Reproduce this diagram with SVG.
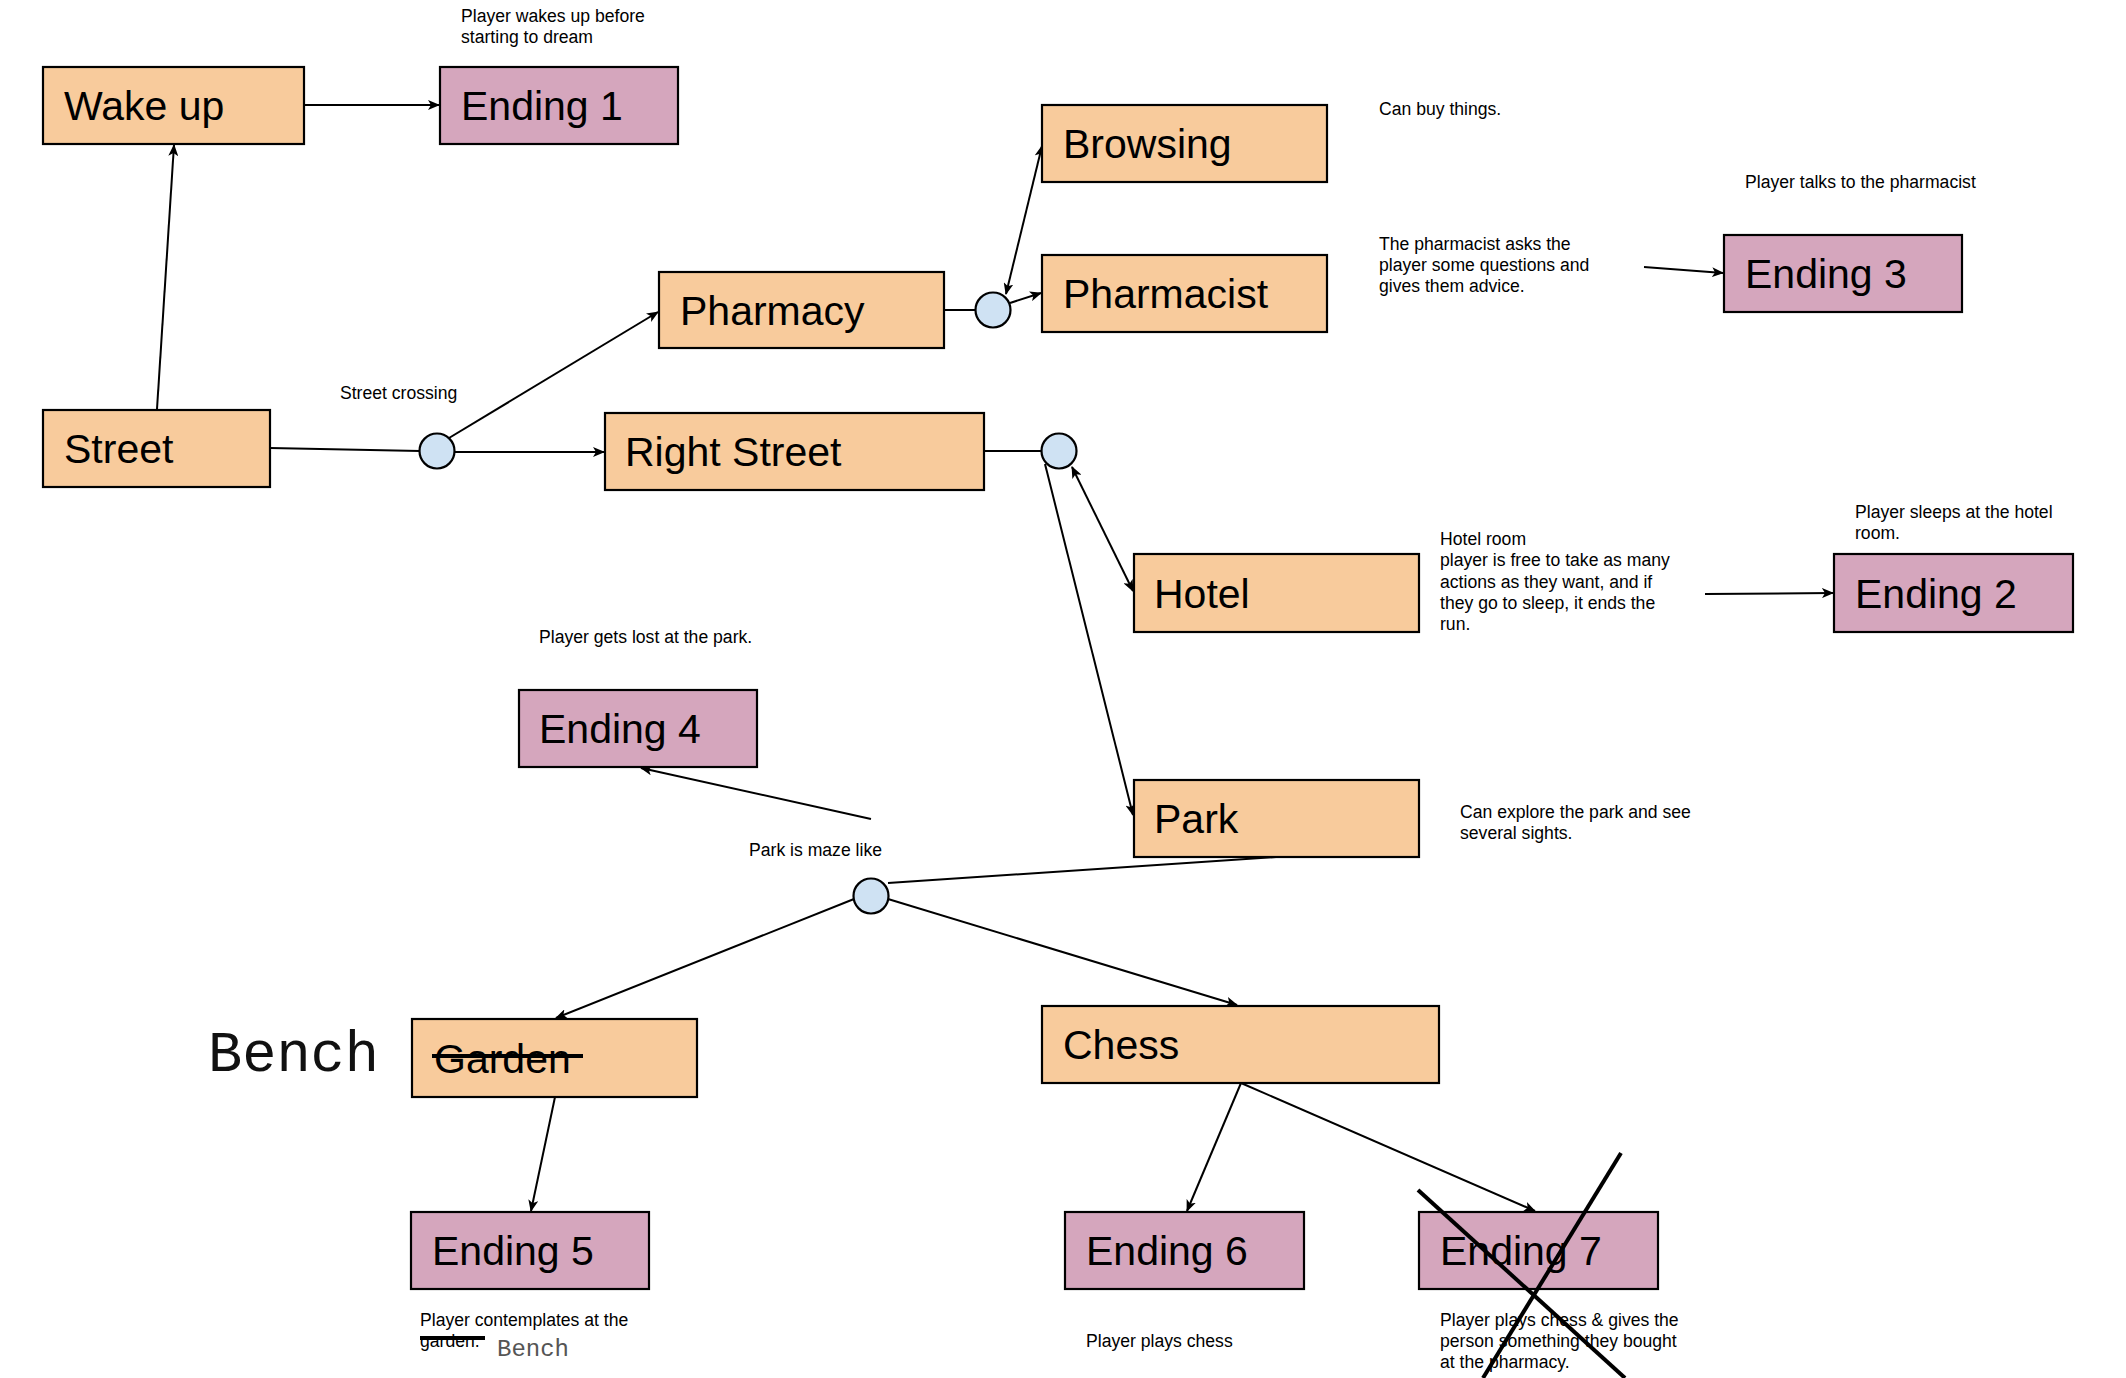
<svg xmlns="http://www.w3.org/2000/svg" width="2126" height="1378" viewBox="0 0 2126 1378">
<style>
  .box { stroke: #000; stroke-width: 2.2; }
  .state { fill: #f8cb9c; }
  .ending { fill: #d5a6bd; }
  .junction { fill: #cfe2f3; stroke: #000; stroke-width: 2.2; }
  .label { font-family: "Liberation Sans", Arial, sans-serif; font-size: 41px; fill: #000; }
  .note { font-family: "Liberation Sans", Arial, sans-serif; font-size: 17.6px; fill: #000; }
  .mono { font-family: "Liberation Mono", "Courier New", monospace; }
  .edge { fill: none; stroke: #000; stroke-width: 2; }
  .thick { fill: none; stroke: #000; stroke-width: 4; }
</style>
<defs>
  <marker id="arr" viewBox="0 0 12 10" refX="11" refY="5" markerWidth="12" markerHeight="10" markerUnits="userSpaceOnUse" orient="auto-start-reverse">
    <path d="M0,0 L12,5 L0,10 L3,5 z" fill="#000"/>
  </marker>
</defs>
<rect width="2126" height="1378" fill="#fff"/>

<g id="connectors">
  <line class="edge" x1="304" y1="105" x2="439" y2="105" marker-end="url(#arr)"/>
  <line class="edge" x1="157" y1="409" x2="174" y2="145" marker-end="url(#arr)"/>
  <line class="edge" x1="270" y1="448" x2="420" y2="451"/>
  <line class="edge" x1="455" y1="452" x2="604" y2="452" marker-end="url(#arr)"/>
  <line class="edge" x1="449" y1="438" x2="658" y2="312" marker-end="url(#arr)"/>
  <line class="edge" x1="944" y1="310" x2="975" y2="310"/>
  <line class="edge" x1="1006" y1="294" x2="1042" y2="146" marker-start="url(#arr)" marker-end="url(#arr)"/>
  <line class="edge" x1="1010" y1="303" x2="1041" y2="293" marker-end="url(#arr)"/>
  <line class="edge" x1="984" y1="451" x2="1041" y2="451"/>
  <line class="edge" x1="1072" y1="467" x2="1133" y2="591" marker-start="url(#arr)" marker-end="url(#arr)"/>
  <line class="edge" x1="1045" y1="464" x2="1133" y2="815" marker-end="url(#arr)"/>
  <line class="edge" x1="1644" y1="267" x2="1723" y2="273" marker-end="url(#arr)"/>
  <line class="edge" x1="1705" y1="594" x2="1833" y2="593" marker-end="url(#arr)"/>
  <line class="edge" x1="1276" y1="857" x2="888" y2="883"/>
  <line class="edge" x1="871" y1="819" x2="641" y2="768" marker-end="url(#arr)"/>
  <line class="edge" x1="854" y1="899" x2="556" y2="1018" marker-end="url(#arr)"/>
  <line class="edge" x1="888" y1="899" x2="1237" y2="1005" marker-end="url(#arr)"/>
  <line class="edge" x1="555" y1="1097" x2="531" y2="1211" marker-end="url(#arr)"/>
  <line class="edge" x1="1241" y1="1083" x2="1187" y2="1211" marker-end="url(#arr)"/>
  <line class="edge" x1="1241" y1="1083" x2="1535" y2="1211" marker-end="url(#arr)"/>
</g>

<g id="wake-up"><rect class="box state" x="43" y="67" width="261" height="77"/><text class="label" x="64" y="120">Wake up</text></g>
<g id="ending-1"><rect class="box ending" x="440" y="67" width="238" height="77"/><text class="label" x="461" y="120">Ending 1</text></g>
<g id="browsing"><rect class="box state" x="1042" y="105" width="285" height="77"/><text class="label" x="1063" y="158">Browsing</text></g>
<g id="pharmacist"><rect class="box state" x="1042" y="255" width="285" height="77"/><text class="label" x="1063" y="308">Pharmacist</text></g>
<g id="pharmacy"><rect class="box state" x="659" y="272" width="285" height="76"/><text class="label" x="680" y="325">Pharmacy</text></g>
<g id="ending-3"><rect class="box ending" x="1724" y="235" width="238" height="77"/><text class="label" x="1745" y="288">Ending 3</text></g>
<g id="street"><rect class="box state" x="43" y="410" width="227" height="77"/><text class="label" x="64" y="463">Street</text></g>
<g id="right-street"><rect class="box state" x="605" y="413" width="379" height="77"/><text class="label" x="625" y="466">Right Street</text></g>
<g id="hotel"><rect class="box state" x="1134" y="554" width="285" height="78"/><text class="label" x="1154" y="608">Hotel</text></g>
<g id="ending-2"><rect class="box ending" x="1834" y="554" width="239" height="78"/><text class="label" x="1855" y="608">Ending 2</text></g>
<g id="ending-4"><rect class="box ending" x="519" y="690" width="238" height="77"/><text class="label" x="539" y="743">Ending 4</text></g>
<g id="park"><rect class="box state" x="1134" y="780" width="285" height="77"/><text class="label" x="1154" y="833">Park</text></g>
<g id="garden"><rect class="box state" x="412" y="1019" width="285" height="78"/><text class="label" x="434" y="1073">Garden</text><line class="thick" x1="432" y1="1056" x2="583" y2="1056"/></g>
<g id="chess"><rect class="box state" x="1042" y="1006" width="397" height="77"/><text class="label" x="1063" y="1059">Chess</text></g>
<g id="ending-5"><rect class="box ending" x="411" y="1212" width="238" height="77"/><text class="label" x="432" y="1265">Ending 5</text></g>
<g id="ending-6"><rect class="box ending" x="1065" y="1212" width="239" height="77"/><text class="label" x="1086" y="1265">Ending 6</text></g>
<g id="ending-7"><rect class="box ending" x="1419" y="1212" width="239" height="77"/><text class="label" x="1440" y="1265">Ending 7</text></g>

<g id="junction-1"><circle class="junction" cx="437" cy="451" r="17.5"/></g>
<g id="junction-2"><circle class="junction" cx="993" cy="310" r="17.5"/></g>
<g id="junction-3"><circle class="junction" cx="1059" cy="451" r="17.5"/></g>
<g id="junction-4"><circle class="junction" cx="871" cy="896" r="17.5"/></g>

<g id="notes">
  <text class="note" x="461" y="22">Player wakes up before</text>
  <text class="note" x="461" y="43">starting to dream</text>
  <text class="note" x="1379" y="115">Can buy things.</text>
  <text class="note" x="1745" y="188">Player talks to the pharmacist</text>
  <text class="note" x="1379" y="250">The pharmacist asks the</text>
  <text class="note" x="1379" y="271">player some questions and</text>
  <text class="note" x="1379" y="292">gives them advice.</text>
  <text class="note" x="340" y="399">Street crossing</text>
  <text class="note" x="1440" y="545">Hotel room</text>
  <text class="note" x="1440" y="566">player is free to take as many</text>
  <text class="note" x="1440" y="588">actions as they want, and if</text>
  <text class="note" x="1440" y="609">they go to sleep, it ends the</text>
  <text class="note" x="1440" y="630">run.</text>
  <text class="note" x="1855" y="518">Player sleeps at the hotel</text>
  <text class="note" x="1855" y="539">room.</text>
  <text class="note" x="539" y="643">Player gets lost at the park.</text>
  <text class="note" x="1460" y="818">Can explore the park and see</text>
  <text class="note" x="1460" y="839">several sights.</text>
  <text class="note" x="749" y="856">Park is maze like</text>
  <text class="note" x="420" y="1326">Player contemplates at the</text>
  <text class="note" x="420" y="1347">garden.</text>
  <line class="thick" x1="420" y1="1338" x2="485" y2="1338"/>
  <text class="mono" x="497" y="1356" font-size="24" fill="#555">Bench</text>
  <text class="mono" x="208" y="1071" font-size="57" fill="#111">Bench</text>
  <text class="note" x="1086" y="1347">Player plays chess</text>
  <text class="note" x="1440" y="1326">Player plays chess &amp; gives the</text>
  <text class="note" x="1440" y="1347">person something they bought</text>
  <text class="note" x="1440" y="1368">at the pharmacy.</text>
</g>

<g id="cross-out">
  <line class="thick" x1="1418" y1="1190" x2="1625" y2="1378"/>
  <line class="thick" x1="1621" y1="1153" x2="1483" y2="1378"/>
</g>
</svg>
